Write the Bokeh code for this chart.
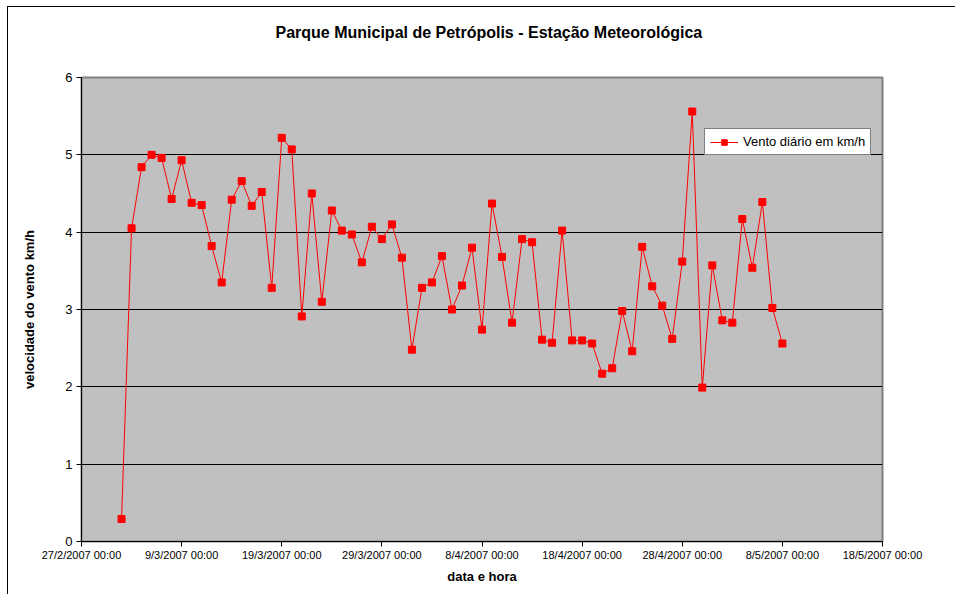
import pandas as pd
from bokeh.plotting import figure
from bokeh.models import Range1d, FixedTicker, Legend, LegendItem, Title
from bokeh.embed import file_html
from bokeh.resources import INLINE

# ---- data ----
start_date = "2007-03-03"
wind_kmh = [0.29, 4.05, 4.84, 5.00, 4.96, 4.43, 4.93, 4.38, 4.35, 3.82,
            3.35, 4.42, 4.66, 4.34, 4.52, 3.28, 5.22, 5.07, 2.91, 4.50,
            3.10, 4.28, 4.02, 3.97, 3.61, 4.07, 3.91, 4.10, 3.67, 2.48,
            3.28, 3.35, 3.69, 3.00, 3.31, 3.80, 2.74, 4.37, 3.68, 2.83,
            3.91, 3.87, 2.61, 2.57, 4.02, 2.60, 2.60, 2.56, 2.17, 2.24,
            2.98, 2.46, 3.81, 3.30, 3.05, 2.62, 3.62, 5.56, 1.99, 3.57,
            2.86, 2.83, 4.17, 3.54, 4.39, 3.02, 2.56]
tick_dates = ["2007-02-27", "2007-03-09", "2007-03-19", "2007-03-29", "2007-04-08",
              "2007-04-18", "2007-04-28", "2007-05-08", "2007-05-18"]
tick_labels = ["27/2/2007 00:00", "9/3/2007 00:00", "19/3/2007 00:00", "29/3/2007 00:00",
               "8/4/2007 00:00", "18/4/2007 00:00", "28/4/2007 00:00", "8/5/2007 00:00",
               "18/5/2007 00:00"]
y_ticks = [0, 1, 2, 3, 4, 5, 6]
title_text = "Parque Municipal de Petrópolis - Estação Meteorológica"

dates = pd.date_range(start_date, periods=len(wind_kmh), freq="D")
tick_ms = [pd.Timestamp(d).value // 10**6 for d in tick_dates]

FONT = "Liberation Sans"

p = figure(width=948, height=588, x_axis_type="datetime",
           output_backend="svg", toolbar_location=None,
           x_range=Range1d(pd.Timestamp(tick_dates[0]), pd.Timestamp(tick_dates[-1])),
           y_range=Range1d(0, 6),
           min_border_left=73, min_border_right=74, min_border_top=10, min_border_bottom=54)
p.title = None
p.styles = {"border-left": "1px solid black", "border-top": "1px solid black",
            "margin-left": "7px", "margin-top": "6px"}

p.background_fill_color = "#C0C0C0"
p.border_fill_color = "white"
p.outline_line_color = "#808080"
p.outline_line_width = 2

# spacer panel between frame and title, then the title itself
spacer = Title(text=" ", text_font=FONT, text_font_size="1px", standoff=20)
p.add_layout(spacer, "above")
main_title = Title(text=title_text, text_font=FONT, text_font_size="16px",
                   text_font_style="bold", text_color="black",
                   align="left", offset=194, standoff=28)
p.add_layout(main_title, "above")

# grid
p.xgrid.grid_line_color = None
p.ygrid.grid_line_color = "#000000"
p.ygrid.grid_line_width = 1
p.ygrid.ticker = FixedTicker(ticks=y_ticks)

# x axis
xa = p.xaxis[0]
xa.ticker = FixedTicker(ticks=tick_ms)
xa.major_label_overrides = {t: l for t, l in zip(tick_ms, tick_labels)}
xa.major_label_text_font = FONT
xa.major_label_text_font_size = "11px"
xa.major_label_text_color = "black"
xa.major_label_standoff = 2
xa.major_tick_in = 0
xa.major_tick_out = 5
xa.minor_tick_line_color = None
xa.axis_line_color = "black"
xa.major_tick_line_color = "black"
xa.axis_label = "data e hora"
xa.axis_label_text_font = FONT
xa.axis_label_text_font_style = "bold"
xa.axis_label_text_font_size = "13px"
xa.axis_label_text_color = "black"
xa.axis_label_standoff = 5

# y axis
ya = p.yaxis[0]
ya.ticker = FixedTicker(ticks=y_ticks)
ya.major_label_text_font = FONT
ya.major_label_text_font_size = "13px"
ya.major_label_text_color = "black"
ya.major_label_standoff = 4
ya.major_tick_in = 0
ya.major_tick_out = 5
ya.minor_tick_line_color = None
ya.axis_line_color = "black"
ya.major_tick_line_color = "black"
ya.axis_label = "velocidade do vento km/h"
ya.axis_label_text_font = FONT
ya.axis_label_text_font_style = "bold"
ya.axis_label_text_font_size = "13px"
ya.axis_label_text_color = "black"
ya.axis_label_standoff = 25

ln = p.line(dates, wind_kmh, line_color="#FF0000", line_width=1)
sc = p.scatter(dates, wind_kmh, marker="square", size=7,
               fill_color="#FF0000", line_color="#FF0000")

legend = Legend(items=[LegendItem(label="Vento diário em km/h", renderers=[ln, sc])],
                location=(623, 386))
legend.background_fill_color = "white"
legend.background_fill_alpha = 1
legend.border_line_color = "black"
legend.border_line_width = 1
legend.label_text_font = FONT
legend.label_text_font_size = "13px"
legend.label_text_color = "black"
legend.label_standoff = 5
legend.glyph_width = 28
legend.glyph_height = 14
legend.label_height = 14
legend.padding = 5
legend.spacing = 0
legend.margin = 0
p.add_layout(legend, "center")

open("out.html", "w").write(file_html(p, INLINE))
